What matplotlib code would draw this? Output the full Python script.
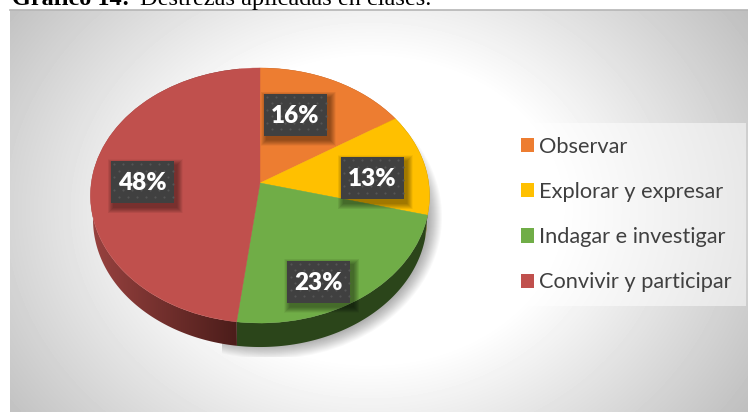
import matplotlib
matplotlib.use('Agg')
import matplotlib.pyplot as plt
import numpy as np
from matplotlib.patches import PathPatch, Polygon, Rectangle, Ellipse, Patch
from matplotlib.path import Path

# data
categories = ['Observar', 'Explorar y expresar', 'Indagar e investigar', 'Convivir y participar']
values = [16, 13, 23, 48]
labels = ['16%', '13%', '23%', '48%']

colors = ['#ed7d31', '#ffc000', '#70ad47', '#c0504d']
wall_colors = ['#7f3f18', '#7f6000', '#2b451a', '#6b2a28']
label_centers = [(295.5, 114.5), (372.5, 178), (319, 281.5), (142.5, 182)]

# pie geometry in image pixels
CX, CY = 260, 183
SX, KY, C = 168.7, 126.3, 0.098
DEPTH = 24

W, H = 748, 412


def warp(xy):
    # tilts the flat unit pie, the near side looks bigger than the far side
    xy = np.asarray(xy)
    den = 1 + C * xy[:, 1]
    return np.column_stack([CX + SX * xy[:, 0] / den, CY - KY * xy[:, 1] / den])


fig = plt.figure(figsize=(W / 100, H / 100), dpi=100)
ax = fig.add_axes([0, 0, 1, 1])

# flat pie from the values, only used to get the wedge outlines
tmp_fig, tmp_ax = plt.subplots()
wedges, _ = tmp_ax.pie(values, startangle=90, counterclock=False)
plt.close(tmp_fig)

ax.set_xlim(0, W)
ax.set_ylim(H, 0)
ax.axis('off')

# background gradient
gx, gy = np.meshgrid(np.arange(10, W), np.arange(10, H))
dist = np.sqrt(((gx - 370) / 500) ** 2 + ((gy - 210) / 400) ** 2)
shade = 1.0 - 0.48 * np.clip(dist - 0.38, 0, None)
ax.imshow(shade, extent=(10, W, H, 10), cmap='gray', vmin=0, vmax=1, aspect='auto', zorder=0)
ax.plot([10, W], [9.5, 9.5], color='#b5b5b5', lw=1.2, zorder=1)

# soft shadow under the pie, cut off flat like in the original
shadow_box = Rectangle((222, 0), W - 222, 357, transform=ax.transData)
for i in range(14):
    grow = 14 - i
    sh = Ellipse((CX + 10, CY + 34), 2 * (158 + grow), 2 * (128 + grow),
                 facecolor='black', alpha=0.024, lw=0, zorder=2)
    ax.add_patch(sh)
    sh.set_clip_path(shadow_box)

# side wall
edges = np.cumsum([0] + values) / sum(values) * 2 * np.pi
for i in range(len(values)):
    t = np.linspace(edges[i], edges[i + 1], 200)
    rim = warp(np.column_stack([np.sin(t), np.cos(t)]))
    low = rim.copy()
    low[:, 0] = CX + (low[:, 0] - CX) * 0.985
    low[:, 1] += DEPTH
    poly = np.vstack([rim, low[::-1]])
    if categories[i] == 'Convivir y participar':
        # this part of the wall gets darker to the right
        clip = Polygon(poly, transform=ax.transData, facecolor='none', lw=0)
        ax.add_patch(clip)
        ramp = np.linspace(0, 1, 256).reshape(1, -1, 1)
        rgb = np.array([0.60, 0.26, 0.25]) * (1 - ramp) + np.array([0.29, 0.11, 0.10]) * ramp
        img = ax.imshow(rgb, extent=(90, 240, H, 0), aspect='auto', zorder=3)
        img.set_clip_path(clip)
    else:
        ax.add_patch(Polygon(poly, facecolor=wall_colors[i], lw=0, zorder=3))

# top of the pie
for wedge, col in zip(wedges, colors):
    path = wedge.get_path()
    ax.add_patch(PathPatch(Path(warp(path.vertices), path.codes), facecolor=col,
                           edgecolor=col, lw=0.3, zorder=4))

# data labels
for (x, y), lab in zip(label_centers, labels):
    for i in range(12):
        grow = 12 - i
        ax.add_patch(Rectangle((x - 31.5 + 3 - grow / 2, y - 21 + 4 - grow / 2), 63 + grow, 42 + grow,
                               facecolor='black', alpha=0.035, lw=0, zorder=5))
    ax.add_patch(Rectangle((x - 31.5, y - 21), 63, 42, facecolor='#404040', lw=0, zorder=6))
    # little dots on the box
    for row, dy in enumerate(np.arange(-18, 21, 6.5)):
        dots_x = np.arange(-28 + (row % 2) * 4.5, 31, 9)
        ax.scatter(x + dots_x, np.full(len(dots_x), y + dy), s=2.5, color='#555555', lw=0, zorder=6.5)
    ax.text(x, y + 1, lab, color='white', fontsize=17.5, fontweight='heavy', family='Lato',
            ha='center', va='center', zorder=7)

# legend
handles = [Patch(facecolor=c, edgecolor='none') for c in colors]
leg = ax.legend(handles, categories, loc='upper left', bbox_to_anchor=(507 / W, 1 - 123 / H),
                bbox_transform=fig.transFigure, frameon=True, fancybox=False, borderaxespad=0,
                prop={'family': 'Lato', 'size': 15.7}, labelcolor='#404040',
                handlelength=0.64, handleheight=0.64, handletextpad=0.23,
                labelspacing=1.16, borderpad=0.62, facecolor='white', edgecolor='none', framealpha=0.5)
leg.set_zorder(8)

# caption above the chart, cut off by the page crop
ax.text(12, 5, 'Gráfico 14:', family='Liberation Serif', fontsize=17.5, fontweight='bold',
        color='black', va='baseline', zorder=9, clip_on=False)
ax.text(140, 5, 'Destrezas aplicadas en clases.', family='Liberation Serif', fontsize=17.5,
        color='black', va='baseline', zorder=9, clip_on=False)

fig.savefig('out.png', dpi=100)
